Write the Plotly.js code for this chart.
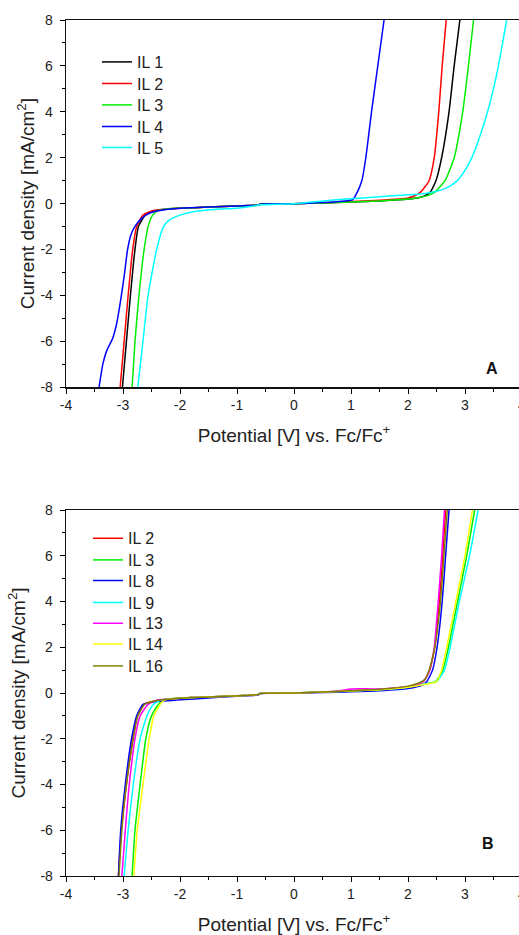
<!DOCTYPE html>
<html><head><meta charset="utf-8">
<script src="https://cdn.plot.ly/plotly-3.0.1.min.js"></script>
<style>html,body{margin:0;padding:0;overflow:hidden;background:#fff}#chart{width:530px;height:935px}</style>
</head><body><div id="chart"></div><script>
// ---------- Panel A ----------
const a_names = ['IL 1','IL 2','IL 3','IL 4','IL 5'];
const a_il1_v = [-3.01,-2.94,-2.87,-2.79,-2.73,-2.61,-2.44,-2.3,-2.0,-1.5,-1.0,-0.62,-0.6,0,0.5,1.0,1.5,2.0,2.2,2.3,2.39,2.49,2.59,2.72,2.81,2.91];
const a_il1_j = [-8,-6,-4,-2,-1,-0.5,-0.3,-0.25,-0.2,-0.15,-0.1,-0.06,-0.02,0,0.03,0.07,0.12,0.2,0.27,0.35,0.5,1,2,4,6,8];
const a_il2_v = [-3.05,-2.98,-2.91,-2.83,-2.76,-2.65,-2.47,-2.3,-2.0,-1.5,-1.0,-0.62,-0.6,0,0.5,1.0,1.5,2.0,2.1,2.22,2.37,2.46,2.54,2.60,2.67];
const a_il2_j = [-8,-6,-4,-2,-1,-0.5,-0.3,-0.25,-0.2,-0.15,-0.1,-0.06,-0.02,0,0.04,0.09,0.15,0.25,0.32,0.5,1,2,4,6,8];
const a_il3_v = [-2.84,-2.79,-2.72,-2.63,-2.56,-2.48,-2.38,-2.2,-2.0,-1.5,-1.0,-0.62,-0.6,0,0.5,1.0,1.5,2.0,2.2,2.35,2.47,2.65,2.81,2.96,3.06,3.15];
const a_il3_j = [-8,-6,-4,-2,-1,-0.5,-0.3,-0.22,-0.2,-0.15,-0.1,-0.06,-0.02,0,0.03,0.07,0.12,0.2,0.27,0.35,0.5,1,2,4,6,8];
const a_il4_v = [-3.42,-3.35,-3.28,-3.18,-3.11,-3.05,-2.98,-2.92,-2.86,-2.79,-2.67,-2.53,-2.3,-2.0,-1.5,-1.0,-0.62,-0.6,0,0.5,0.9,1.03,1.09,1.19,1.26,1.36,1.47,1.58];
const a_il4_j = [-8,-6.95,-6.37,-5.86,-5.21,-4.34,-3.17,-2.0,-1.35,-0.99,-0.63,-0.41,-0.28,-0.2,-0.15,-0.1,-0.06,-0.02,0,0.05,0.12,0.17,0.4,1,2,4,6,8];
const a_il5_v = [-2.74,-2.65,-2.56,-2.41,-2.29,-2.18,-2.0,-1.77,-1.4,-1.0,-0.7,-0.6,0,0.5,1.2,1.8,2.21,2.50,2.68,2.85,2.97,3.09,3.20,3.32,3.44,3.55,3.64,3.73];
const a_il5_j = [-8,-6,-4,-2,-1,-0.7,-0.5,-0.35,-0.25,-0.2,-0.1,-0.05,0,0.12,0.25,0.35,0.42,0.54,0.69,0.97,1.34,1.85,2.5,3.38,4.4,5.56,6.72,8];

// ---------- Panel B ----------
const b_names = ['IL 2','IL 3','IL 8','IL 9','IL 13','IL 14','IL 16'];
const b_il2_v = [-3.08,-3.03,-2.94,-2.83,-2.75,-2.64,-2.45,-2.3,-1.8,-1.3,-0.8,-0.62,-0.6,0,0.5,1.0,1.5,2.0,2.15,2.27,2.38,2.47,2.55,2.61,2.66];
const b_il2_j = [-8,-6,-4,-2,-1,-0.5,-0.35,-0.3,-0.2,-0.15,-0.1,-0.06,-0.02,0,0.04,0.1,0.15,0.25,0.35,0.5,1,2,4,6,8];
const b_il3_v = [-2.84,-2.79,-2.70,-2.60,-2.50,-2.38,-2.30,-2.2,-1.8,-1.3,-0.8,-0.62,-0.6,0,0.5,1.0,1.5,2.0,2.3,2.48,2.61,2.71,2.87,3.03,3.17];
const b_il3_j = [-8,-6,-4,-2,-1,-0.5,-0.3,-0.25,-0.2,-0.15,-0.1,-0.06,-0.02,0,0.04,0.09,0.14,0.25,0.4,0.5,1,2,4,6,8];
const b_il8_v = [-3.08,-3.04,-2.96,-2.85,-2.76,-2.65,-2.5,-2.3,-2.0,-1.5,-1.0,-0.62,-0.6,0,0.5,1.0,1.5,2.0,2.25,2.33,2.43,2.51,2.60,2.66,2.72];
const b_il8_j = [-8,-6,-4,-2,-1,-0.5,-0.4,-0.35,-0.3,-0.22,-0.14,-0.08,-0.03,0,0.02,0.05,0.1,0.2,0.35,0.5,1,2,4,6,8];
const b_il9_v = [-2.98,-2.91,-2.82,-2.70,-2.58,-2.47,-2.33,-2.2,-1.8,-1.3,-0.8,-0.62,-0.6,0,0.5,1.0,1.5,2.0,2.3,2.5,2.64,2.74,2.90,3.08,3.23];
const b_il9_j = [-8,-6,-4,-2,-1,-0.5,-0.3,-0.27,-0.2,-0.15,-0.1,-0.06,-0.02,0,0.04,0.09,0.14,0.25,0.4,0.5,1,2,4,6,8];
const b_il13_v = [-3.02,-2.96,-2.89,-2.79,-2.70,-2.56,-2.40,-2.3,-1.8,-1.3,-0.8,-0.62,-0.6,0,0.5,0.8,1.0,1.2,1.4,2.0,2.2,2.3,2.38,2.46,2.53,2.59,2.64];
const b_il13_j = [-8,-6,-4,-2,-1,-0.5,-0.3,-0.28,-0.2,-0.15,-0.1,-0.06,-0.02,0,0.04,0.1,0.18,0.19,0.17,0.27,0.4,0.6,1,2,4,6,8];
const b_il14_v = [-2.81,-2.75,-2.65,-2.54,-2.46,-2.35,-2.27,-2.2,-1.8,-1.3,-0.8,-0.62,-0.6,0,0.5,1.0,1.5,2.0,2.3,2.5,2.59,2.68,2.84,3.00,3.13];
const b_il14_j = [-8,-6,-4,-2,-1,-0.5,-0.3,-0.27,-0.2,-0.15,-0.1,-0.06,-0.02,0,0.04,0.09,0.14,0.25,0.38,0.5,1,2,4,6,8];
const b_il16_v = [-3.07,-3.02,-2.94,-2.82,-2.74,-2.62,-2.45,-2.3,-1.8,-1.3,-0.8,-0.62,-0.6,0,0.5,1.0,1.5,2.0,2.2,2.3,2.37,2.47,2.57,2.63,2.69];
const b_il16_j = [-8,-6,-4,-2,-1,-0.5,-0.35,-0.3,-0.2,-0.15,-0.1,-0.06,-0.02,0,0.04,0.1,0.16,0.3,0.45,0.6,1,2,4,6,8];

const xTicks = [-4,-3,-2,-1,0,1,2,3,4];
const yTicks = [-8,-6,-4,-2,0,2,4,6,8];

const FONT = 'Liberation Sans, Arial, sans-serif';
const a_colors = ['#000000','#FF0000','#00EE00','#0000FF','#00FFFF'];
const b_colors = ['#FF0000','#00EE00','#0000FF','#00FFFF','#FF00FF','#FFFF00','#808000'];
const a_series = [[a_il1_v,a_il1_j],[a_il2_v,a_il2_j],[a_il3_v,a_il3_j],[a_il4_v,a_il4_j],[a_il5_v,a_il5_j]];
const b_series = [[b_il2_v,b_il2_j],[b_il3_v,b_il3_j],[b_il8_v,b_il8_j],[b_il9_v,b_il9_j],[b_il13_v,b_il13_j],[b_il14_v,b_il14_j],[b_il16_v,b_il16_j]];

// layout geometry (px)
const W = 530, H = 935, ML = 66, MR = 8, MT = 20, MB = 59;
const PW = W - ML - MR, PH = H - MT - MB;
const px2x = p => (p - ML) / PW;
const px2y = p => (H - MB - p) / PH;

const traces = [];
const layout = {
  width: W, height: H,
  showlegend: true,
  margin: {l: ML, r: MR, t: MT, b: MB, pad: 0},
  paper_bgcolor: '#fff', plot_bgcolor: '#fff',
  font: {family: FONT, color: '#222', size: 14},
  annotations: [
    {text: '<b>A</b>', xref: 'paper', yref: 'paper', x: px2x(500), y: px2y(368), showarrow: false, font: {size: 16, family: FONT, color: '#111'}},
    {text: '<b>B</b>', xref: 'paper', yref: 'paper', x: px2x(495.5), y: px2y(854), showarrow: false, font: {size: 16, family: FONT, color: '#111'}}
  ]
};

function axisX(anchor) {
  return {
    anchor: anchor, domain: [0, 1], range: [-4, 4],
    tickmode: 'array', tickvals: xTicks, ticktext: xTicks.map(String),
    ticks: 'outside', ticklen: 5, tickwidth: 1, tickcolor: '#000',
    minor: {dtick: 0.5, tick0: 0, ticks: 'outside', ticklen: 3, tickwidth: 1, tickcolor: '#000', showgrid: false},
    showline: true, linecolor: '#111', linewidth: 1.3, mirror: true,
    showgrid: false, zeroline: false,
    tickfont: {size: 14, family: FONT, color: '#222'},
    title: {text: 'Potential [V] vs. Fc/Fc<sup>+</sup>', font: {size: 19, family: FONT, color: '#222'}, standoff: 16}
  };
}
function axisY(anchor, domain, standoff) {
  return {
    anchor: anchor, domain: domain, range: [-8, 8],
    tickmode: 'array', tickvals: yTicks, ticktext: yTicks.map(String),
    ticks: 'outside', ticklen: 5, tickwidth: 1, tickcolor: '#000',
    minor: {dtick: 1, tick0: 0, ticks: 'outside', ticklen: 3, tickwidth: 1, tickcolor: '#000', showgrid: false},
    showline: true, linecolor: '#111', linewidth: 1.3, mirror: true,
    showgrid: false, zeroline: false, ticklabelstandoff: 4,
    tickfont: {size: 14, family: FONT, color: '#222'},
    title: {text: 'Current density [mA/cm<sup>2</sup>]', font: {size: 19, family: FONT, color: '#222'}, standoff: standoff}
  };
}
layout.xaxis = axisX('y');
layout.yaxis = axisY('x', [px2y(387.3), 1], 0);
layout.xaxis2 = axisX('y2');
layout.yaxis2 = axisY('x2', [0, px2y(510)], 9);

const aLegY = [62, 83.5, 105, 126.5, 147.5];
const bLegY = [538.3, 560, 580.7, 602.7, 623.3, 644, 666];
let li = 0;
function addTrace(ser, name, color, xa, ya, legX, legY) {
  li += 1;
  const lid = li === 1 ? 'legend' : 'legend' + li;
  traces.push({
    type: 'scatter', mode: 'lines', x: ser[0], y: ser[1], name: name,
    xaxis: xa, yaxis: ya, legend: lid, showlegend: true,
    line: {color: color, width: 1.5, shape: 'spline', smoothing: 0.5}
  });
  layout[lid] = {
    x: px2x(legX), y: px2y(legY), xanchor: 'left', yanchor: 'middle',
    bgcolor: 'rgba(0,0,0,0)', borderwidth: 0,
    font: {size: 16, family: FONT, color: '#222'}
  };
}
a_series.forEach((s, i) => addTrace(s, a_names[i], a_colors[i], 'x', 'y', 97, aLegY[i]));
b_series.forEach((s, i) => addTrace(s, b_names[i], b_colors[i], 'x2', 'y2', 88, bLegY[i]));

Plotly.newPlot('chart', traces, layout, {displayModeBar: false, staticPlot: true});
</script></body></html>
